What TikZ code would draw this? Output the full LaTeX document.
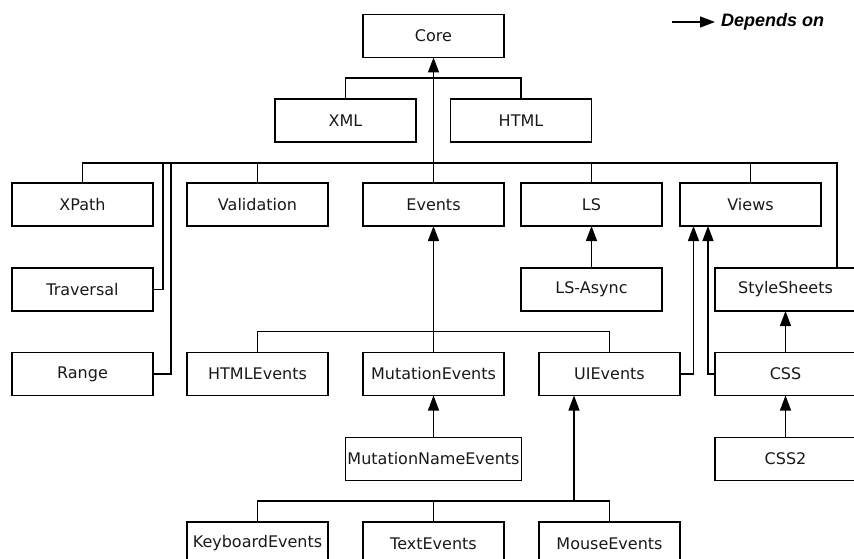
\documentclass[tikz,border=0pt]{standalone}
\usepackage{fontspec}
\setmainfont{DejaVu Sans}
\newfontfamily\legendfont{Liberation Sans}
\usetikzlibrary{arrows.meta,calc}
\begin{document}
\begin{tikzpicture}[x=1pt,y=-1pt,
  module/.style={draw,line width=1.3pt,rectangle,minimum width=141pt,minimum height=43pt,
    inner sep=0pt,outer sep=0pt,font=\fontsize{16}{19}\selectfont,text=black!90},
  link/.style={line width=1.3pt},
  dep/.style={line width=1.3pt,-{Triangle[length=15pt,width=11pt]}}]
\useasboundingbox (0,0) rectangle (854,559);

% modules
\node[module] (Core) at (433.5,36) {Core};
\node[module] (XML) at (345.5,120.5) {XML};
\node[module] (HTML) at (521,120.5) {HTML};
\node[module] (XPath) at (82.5,204.5) {XPath};
\node[module] (Validation) at (257.5,204.5) {Validation};
\node[module] (Events) at (433.5,204.5) {Events};
\node[module] (LS) at (591.5,204.5) {LS};
\node[module] (Views) at (750.5,204.5) {Views};
\node[module] (Traversal) at (82.5,289.5) {Traversal};
\node[module] (LSAsync) at (591.5,289.5) {LS-Async};
\node[module] (StyleSheets) at (785.5,289.5) {StyleSheets};
\node[module] (Range) at (82.5,374) {Range};
\node[module] (HTMLEvents) at (257.5,374) {HTMLEvents};
\node[module] (MutationEvents) at (433.5,374) {MutationEvents};
\node[module] (UIEvents) at (609.5,374) {UIEvents};
\node[module] (CSS) at (785.5,374) {CSS};
\node[module,minimum width=176pt] (MutationNameEvents) at (433.5,459) {MutationNameEvents};
\node[module] (CSSTwo) at (785.5,459) {CSS2};
\node[module] (KeyboardEvents) at (257.5,543.5) {KeyboardEvents};
\node[module] (TextEvents) at (433.5,543.5) {TextEvents};
\node[module] (MouseEvents) at (609.5,543.5) {MouseEvents};

% bus junctions
\coordinate (busR) at (837,163);
\coordinate (busT) at (163,163);
\coordinate (busG) at (171,163);
\coordinate (uiBus) at (574,501);

% groupings
\draw[link] (XML.north) -- ++(0,-21) -| (HTML.north);
\draw[link] (XPath.north) |- (busR) -- (busR |- StyleSheets.north);
\draw[link] (Validation.north) -- (Validation.north |- busR);
\draw[link] (LS.north) -- (LS.north |- busR);
\draw[link] (Views.north) -- (Views.north |- busR);
\draw[link] (busT) |- (Traversal.east);
\draw[link] (busG) |- (Range.east);
\draw[link] (HTMLEvents.north) -- ++(0,-21) -| (UIEvents.north);
\draw[link] (KeyboardEvents.north) -- ++(0,-21) -| (MouseEvents.north);
\draw[link] (TextEvents.north) -- (TextEvents.north |- uiBus);

% dependencies
\draw[dep] (Events.north) -- (Core.south);
\draw[dep] (MutationEvents.north) -- (Events.south);
\draw[dep] (MutationNameEvents.north) -- (MutationEvents.south);
\draw[dep] (LSAsync.north) -- (LS.south);
\draw[dep] (UIEvents.east) -| ($(Views.south west)+(13.5,0)$);
\draw[dep] (CSS.west) -| ($(Views.south west)+(28,0)$);
\draw[dep] (CSS.north) -- (StyleSheets.south);
\draw[dep] (CSSTwo.north) -- (CSS.south);
\draw[dep] (uiBus) -- (uiBus |- UIEvents.south);

% legend
\coordinate (legA) at (672,22);
\coordinate (legB) at (715,22);
\draw[dep] (legA) -- (legB);
\node[anchor=west,inner sep=0pt,font=\legendfont\bfseries\itshape\fontsize{18}{21}\selectfont] (legText) at (721,22) {Depends on};
\end{tikzpicture}
\end{document}
